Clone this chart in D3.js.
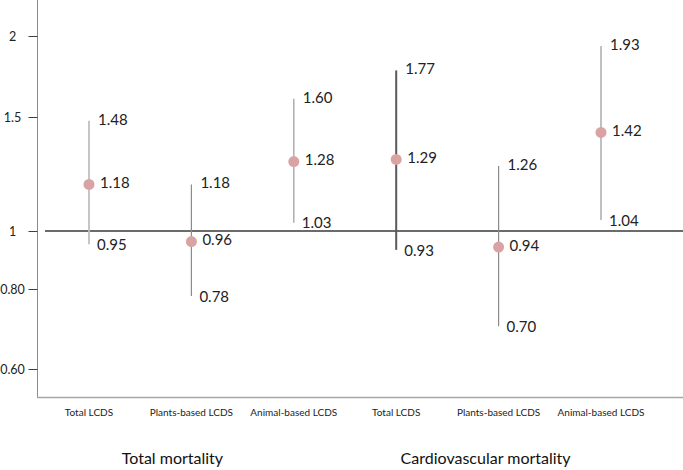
<!DOCTYPE html>
<html><head><meta charset="utf-8">
<script src="https://cdn.jsdelivr.net/npm/d3@7"></script>
<style>body{margin:0;background:#fff}svg{display:block;font-family:Lato,"Open Sans",sans-serif}</style>
</head><body><svg id="c" width="683" height="470"></svg>
<script>
const categories = ["Total LCDS","Plants-based LCDS","Animal-based LCDS","Total LCDS","Plants-based LCDS","Animal-based LCDS"];
const groups = ["Total mortality","Cardiovascular mortality"];
const hr    = [1.18, 0.96, 1.28, 1.29, 0.94, 1.42];
const lower = [0.95, 0.78, 1.03, 0.93, 0.70, 1.04];
const upper = [1.48, 1.18, 1.60, 1.77, 1.26, 1.93];
const yTicks = [0.60, 0.80, 1, 1.5, 2];
const yTickLabels = ["0.60","0.80","1","1.5","2"];

const lineColors = ["#c0c0c0","#8c8c8c","#a8a8a8","#5a5a5a","#8a8a8a","#c0c0c0"];
const lineWidths = [1.8,1.2,1.4,2,1.2,2];

const svg = d3.select("#c");
const x = d3.scalePoint().domain(d3.range(categories.length)).range([89, 601]);
const y = d3.scaleLog().domain(yTicks).range([369, 289, 231, 117, 36]);

// axes frame
svg.append("line").attr("x1",37.5).attr("x2",37.5).attr("y1",0).attr("y2",397).attr("stroke","#8c8c8c").attr("stroke-width",1);
svg.append("line").attr("x1",37).attr("x2",683).attr("y1",397.5).attr("y2",397.5).attr("stroke","#a6a6a6").attr("stroke-width",1.5);

const yAxis = svg.append("g").attr("transform","translate(37.5,0)")
  .call(d3.axisLeft(y).tickValues(yTicks).tickFormat((d,i)=>yTickLabels[i]).tickSize(9).tickSizeOuter(0));
yAxis.select(".domain").remove();
yAxis.selectAll(".tick line").attr("stroke","#404040");
yAxis.selectAll(".tick text").attr("x",-25).attr("text-anchor","middle")
  .style("font-family","Lato, sans-serif").style("font-size","12.5px").attr("fill","#222");

// reference line at 1
svg.append("line").attr("x1",45).attr("x2",683).attr("y1",y(1)).attr("y2",y(1)).attr("stroke","#3a3a3a").attr("stroke-width",1.4);

const idx = d3.range(categories.length);
// CI lines
svg.selectAll("line.ci").data(idx).join("line").attr("class","ci")
  .attr("x1",i=>x(i)).attr("x2",i=>x(i))
  .attr("y1",i=>y(upper[i])).attr("y2",i=>y(lower[i]))
  .attr("stroke",i=>lineColors[i]).attr("stroke-width",i=>lineWidths[i]);

// dots
svg.selectAll("circle.pt").data(idx).join("circle").attr("class","pt")
  .attr("cx",i=>x(i)).attr("cy",i=>y(hr[i])).attr("r",5.5).attr("fill","#d9a3a3");

const fmt = d3.format(".2f");
function labels(arr, cls, dx, dy){
  svg.selectAll("text."+cls).data(idx).join("text").attr("class",cls)
    .attr("x",i=>x(i)+dx).attr("y",i=>y(arr[i])+dy)
    .attr("dominant-baseline","middle")
    .style("font-size","15px").attr("fill","#222")
    .text(i=>fmt(arr[i]));
}
labels(upper,"lu",9,0);
labels(hr,"lm",11,0);
labels(lower,"ll",8,2);

// category labels
svg.selectAll("text.cat").data(idx).join("text").attr("class","cat")
  .attr("x",i=>x(i)).attr("y",413).attr("text-anchor","middle").attr("dominant-baseline","middle")
  .style("font-size","10px").attr("fill","#222").text(i=>categories[i]);

// group titles
const gx = [ (x(0)+x(2))/2 - 19, (x(3)+x(5))/2 - 13 ];
svg.selectAll("text.grp").data(groups).join("text").attr("class","grp")
  .attr("x",(d,i)=>gx[i]).attr("y",460).attr("text-anchor","middle").attr("dominant-baseline","middle")
  .style("font-size","16px").attr("fill","#111").text(d=>d);
</script></body></html>
